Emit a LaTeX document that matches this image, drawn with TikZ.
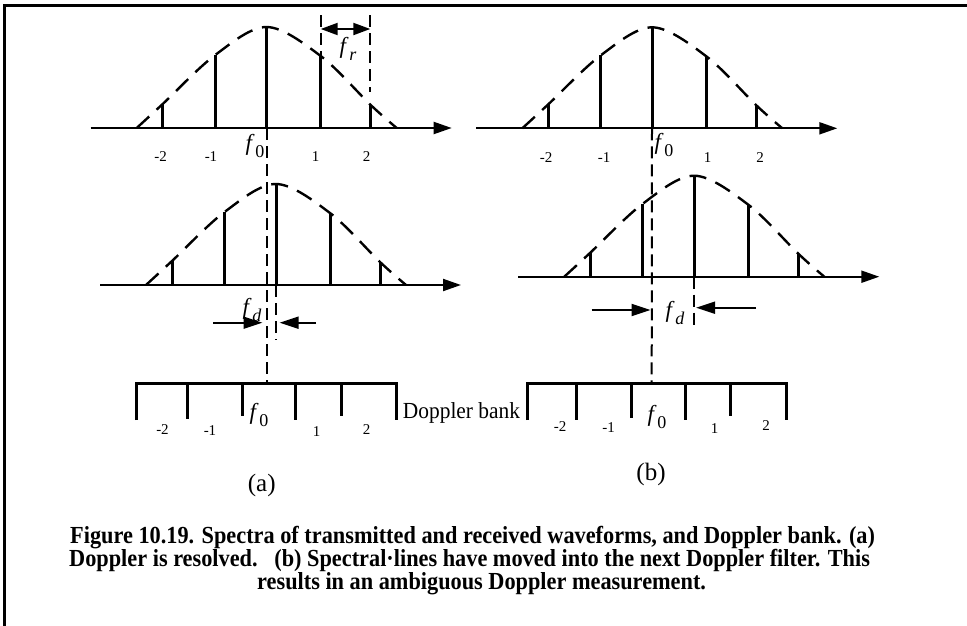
\documentclass[tikz,border=0pt]{standalone}
\usepackage{fontspec}
\setmainfont{Liberation Serif}
\usetikzlibrary{arrows.meta}
\newcommand\fsym[1]{\textit{f}\kern0.8pt\raisebox{-0.28em}{\fontsize{18}{18}\selectfont #1}}
\newcommand\capline[1]{\scalebox{0.91}[1]{#1}}
\begin{document}
\begin{tikzpicture}[x=1pt,y=-1pt,
  axisline/.style={line width=2pt,-{Triangle[length=18pt,width=12pt]}},
  stem/.style={line width=3pt},
  bell/.style={line width=2.4pt,dash pattern=on 17pt off 10pt},
  guide/.style={line width=2pt,dash pattern=on 12pt off 6pt},
  bankline/.style={line width=3pt,line join=miter},
  meas/.style={line width=2pt,-{Triangle[length=19pt,width=12pt]}},
  ticklab/.style={font=\fontsize{15}{15}\selectfont,inner sep=0pt},
  flab/.style={font=\fontsize{23}{23}\selectfont,inner sep=0pt},
  txt/.style={font=\fontsize{25}{25}\selectfont,inner sep=0pt},
  captext/.style={font=\fontsize{24.5}{24.5}\selectfont\bfseries,inner sep=0pt,anchor=base west},
  spec/.pic={
    \draw[axisline] (-176,0) coordinate (-l) -- (185,0) coordinate (-r);
    \draw[bell] plot[smooth,tension=0.55] coordinates {(-130,0) (-104,-24) (-51.5,-73) (0,-101) (54,-72) (104,-23) (130,0)};
    \foreach \x/\h/\n in {-104/24/m2,-51.5/73/m1,0/101/z,54/72/p1,104/23/p2}
      \draw[stem] (\x,0) -- (\x,-\h) coordinate (-\n);
    \coordinate (-c) at (0,0);
  }]
\useasboundingbox (0,0) rectangle (967,625);
% frame
\draw[line width=3pt,line join=miter] (4.3,626) -- (4.3,5) -- (968,5);

% spectra
\pic (tl) at (266.7,128) {spec};
\pic (tr) at (652.3,128.3) {spec};
\pic (ll) at (276,285) {spec};
\pic (lr) at (694.3,276.7) {spec};

% f_r
\coordinate (fra) at (320.7,15);
\coordinate (frb) at (370.3,15);
\draw[guide] (fra) -- (tl-p1);
\draw[guide] (frb) -- (370.3,92);
\draw[line width=2pt,{Triangle[length=17pt,width=12pt]}-{Triangle[length=17pt,width=12pt]}] ([yshift=-14pt]fra) -- ([yshift=-14pt]frb);
\node[flab] (fr) at (348,49) {\fsym{\textit{r}}};

% bank coordinates
\coordinate (ba) at (265.7,383);
\coordinate (bb) at (651.7,383);

% guides
\draw[guide] (tl-c) -- (tl-c |- ba);
\draw[guide] (652,128.3) -- (bb);
\draw[guide] (ll-c) -- ++(0,55) coordinate (lld);
\draw[guide] (lr-c) -- ++(0,50) coordinate (lrd);

% f_d arrows
\coordinate (a1s) at (213,322.7); \coordinate (a1e) at (262.5,322.7);
\coordinate (a2s) at (316,322.7); \coordinate (a2e) at (279.5,322.7);
\draw[meas] (a1s) -- (a1e);
\draw[meas] (a2s) -- (a2e);
\coordinate (b1s) at (591.7,310); \coordinate (b1e) at (650.5,310);
\coordinate (b2s) at (756,307.7); \coordinate (b2e) at (696,307.7);
\draw[meas] (b1s) -- (b1e);
\draw[meas] (b2s) -- (b2e);
\node[flab] (fda) at (252,310) {\fsym{\textit{d}}};
\node[flab] (fdb) at (675,313) {\fsym{\textit{d}}};

% f_0 labels
\node[flab] (f0a) at (255,146) {\fsym{0}};
\node[flab] (f0b) at (664,145) {\fsym{0}};

% tick labels top
\node[ticklab] at (160.7,157) {-2};
\node[ticklab] at (211,157) {-1};
\node[ticklab] at (315.5,157) {1};
\node[ticklab] at (366.7,157) {2};
\node[ticklab] at (546,157.5) {-2};
\node[ticklab] at (604,157.5) {-1};
\node[ticklab] at (707.5,157.5) {1};
\node[ticklab] at (760,157.5) {2};

% Doppler bank (a)
\draw[bankline] (136.7,420) -- (136.7,383) -- (396.7,383) -- (396.7,420);
\draw[bankline] (187.7,383) -- (187.7,419);
\draw[bankline] (242.7,383) -- (242.7,416);
\draw[bankline] (295.7,383) -- (295.7,420);
\draw[bankline] (341,383) -- (341,416);
\node[ticklab] at (162.5,430) {-2};
\node[ticklab] at (210,431) {-1};
\node[flab] at (259,415) {\fsym{0}};
\node[ticklab] at (316.5,432) {1};
\node[ticklab] at (366.7,430) {2};
\node[inner sep=0pt,anchor=base,font=\fontsize{23}{23}\selectfont] (db) at (461.5,418) {\scalebox{0.93}[1]{Doppler bank}};

% Doppler bank (b)
\draw[bankline] (527.3,420) -- (527.3,383) -- (786,383) -- (786,420);
\draw[bankline] (576.7,383) -- (576.7,420);
\draw[bankline] (631,383) -- (631,417.7);
\draw[bankline] (685,383) -- (685,420);
\draw[bankline] (730,383) -- (730,416);
\node[ticklab] at (560,427) {-2};
\node[ticklab] at (608.5,428) {-1};
\node[flab] at (657,417) {\fsym{0}};
\node[ticklab] at (714.5,429) {1};
\node[ticklab] at (766,425.5) {2};

\node[txt] (la) at (261.7,485) {(a)};
\node[txt] (lb) at (651,474) {(b)};

% caption
\node[captext] (c1) at (70,543) {\capline{Figure 10.19. Spectra of transmitted and received waveforms, and Doppler bank. (a)}};
\node[captext] (c2) at (69,566) {\capline{Doppler is resolved.\ \ \ (b) Spectral\textperiodcentered lines have moved into the next Doppler filter. This}};
\node[captext] (c3) at (257,589) {\capline{results in an ambiguous Doppler measurement.}};
\end{tikzpicture}
\end{document}
